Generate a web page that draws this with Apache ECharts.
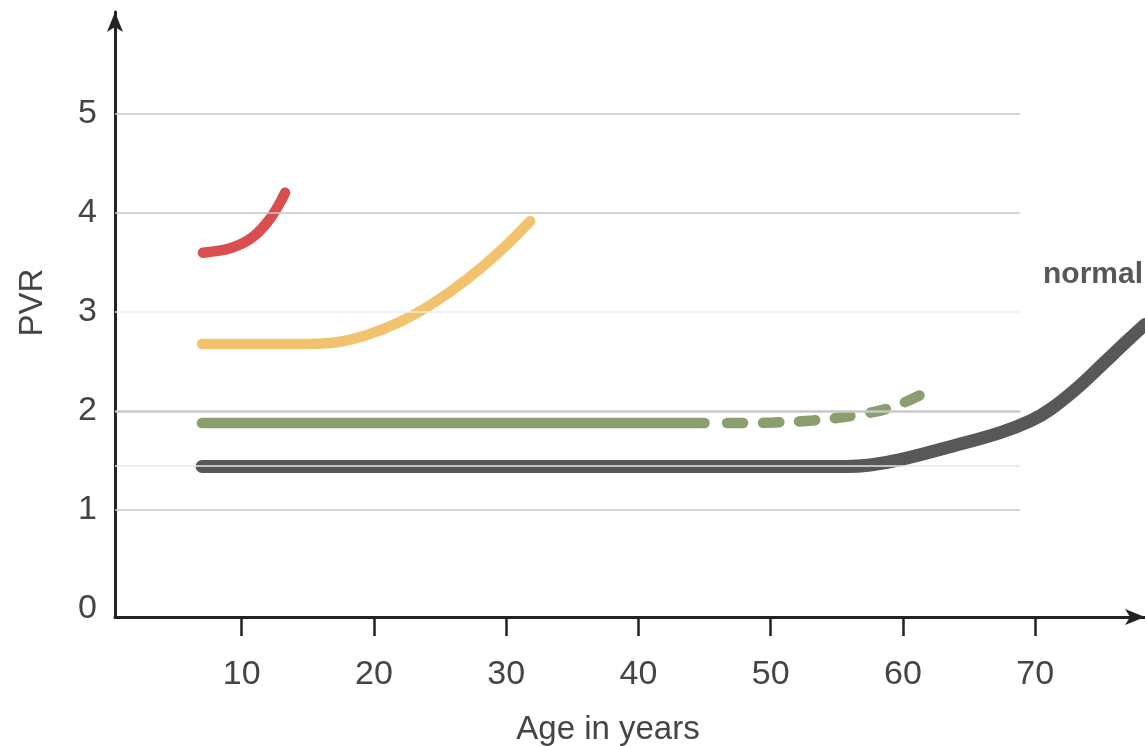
<!DOCTYPE html>
<html>
<head>
<meta charset="utf-8">
<script src="https://cdn.jsdelivr.net/npm/echarts@6/dist/echarts.min.js"></script>
<style>html,body{margin:0;padding:0;background:#fff}#c{width:1145px;height:746px}</style>
</head>
<body>
<div id="c"></div>
<script>
// ---- data ----
const xTicks = [10, 20, 30, 40, 50, 60, 70];
const yTicks = [0, 1, 2, 3, 4, 5];
const gridLevels = [1, 2, 3, 4, 5];
const refLevel = 1.45;
const redCurve = [[7.07,3.599],[8.31,3.62],[9.24,3.649],[10.17,3.70],[10.92,3.767],[11.54,3.845],[12.16,3.946],[12.66,4.049],[13.03,4.138],[13.28,4.205]];
const orangeCurve = [[7.0,2.677],[11,2.677],[14.41,2.677],[16.93,2.69],[19.46,2.768],[21.98,2.902],[24.49,3.09],[27.02,3.329],[29.54,3.615],[31.81,3.918]];
const greenSolid = [[7.0,1.88],[45.0,1.88]];
const greenDashed = [[46.7,1.88],[48.5,1.88],[50.2,1.885],[53.2,1.905],[56.5,1.96],[59.2,2.04],[61.9,2.2]];
const normalCurve = [[7.0,1.44],[45,1.44],[52,1.44],[55.63,1.44],[57.53,1.455],[59.79,1.509],[63.58,1.64],[67.36,1.782],[69.63,1.9],[71.14,2.017],[73.16,2.232],[75.15,2.48],[76.66,2.672],[78.3,2.874]];
const normalLabel = 'normal';
const xName = 'Age in years';
const yName = 'PVR';

const X_MIN = 0.42, X_MAX = 78.3, Y_MIN = -0.08, Y_MAX = 6.03, GRID_END = 68.87;
const font = "'Liberation Sans', Arial, sans-serif";

const gridMark = gridLevels.map(v => [
  {coord: [X_MIN, v], lineStyle: {type: 'solid', color: v === 3 ? '#ececec' : '#c8c8c8', width: v === 2 ? 2.5 : 1.5}},
  {coord: [GRID_END, v]}
]);
gridMark.push([
  {coord: [X_MIN, refLevel], lineStyle: {type: 'solid', color: '#e6e6e6', width: 1.5}},
  {coord: [GRID_END, refLevel]}
]);

const chart = echarts.init(document.getElementById('c'), null, {renderer: 'canvas'});
const lineBase = {type: 'line', showSymbol: false, symbol: 'none', smooth: 0.4, silent: true, z: 3};
chart.setOption({
  animation: false,
  backgroundColor: '#fff',
  grid: {left: 115, right: 0, top: 12, bottom: 129, containLabel: false, outerBoundsMode: 'none'},
  xAxis: {
    type: 'value', min: X_MIN, max: X_MAX,
    name: xName, nameLocation: 'middle', nameGap: 96,
    nameTextStyle: {fontFamily: font, fontSize: 33, color: '#444', padding: [0, 44, 0, 0]},
    axisLine: {show: true, onZero: false, lineStyle: {color: '#222', width: 3}, symbol: ['none', 'arrow'], symbolSize: [12, 20]},
    axisTick: {show: true, customValues: xTicks, length: 19, inside: false, lineStyle: {color: '#222', width: 2.5}},
    axisLabel: {show: true, customValues: xTicks, fontFamily: font, fontSize: 34, color: '#444', margin: 41},
    splitLine: {show: false}
  },
  yAxis: {
    type: 'value', min: Y_MIN, max: Y_MAX,
    name: yName, nameLocation: 'middle', nameGap: 66, nameRotate: 90,
    nameTextStyle: {fontFamily: font, fontSize: 33, color: '#444', padding: [0, 0, 0, 24]},
    axisLine: {show: true, onZero: false, lineStyle: {color: '#222', width: 3}, symbol: ['none', 'arrow'], symbolSize: [12, 20]},
    axisTick: {show: false},
    axisLabel: {show: true, customValues: yTicks, fontFamily: font, fontSize: 34, color: '#444', margin: 18},
    splitLine: {show: false}
  },
  series: [
    {type: 'line', data: [], z: 1, silent: true, markLine: {silent: true, symbol: 'none', label: {show: false}, data: gridMark}},
    Object.assign({}, lineBase, {name: 'normal', data: normalCurve, lineStyle: {color: '#58585a', width: 13, cap: 'round', join: 'round'},
      endLabel: {show: true, formatter: normalLabel, fontFamily: font, fontWeight: 'bold', fontSize: 30, color: '#58585a', offset: [-110, -50]}}),
    Object.assign({}, lineBase, {name: 'green', data: greenSolid, lineStyle: {color: '#8a9f6d', width: 10.5, cap: 'round'}}),
    Object.assign({}, lineBase, {name: 'green-dashed', data: greenDashed, lineStyle: {color: '#8a9f6d', width: 10.5, cap: 'round', type: [16, 20]}}),
    Object.assign({}, lineBase, {name: 'orange', data: orangeCurve, lineStyle: {color: '#f3c26f', width: 10.5, cap: 'round', join: 'round'}}),
    Object.assign({}, lineBase, {name: 'red', data: redCurve, lineStyle: {color: '#d94f50', width: 10.5, cap: 'round', join: 'round'}})
  ]
});
</script>
</body>
</html>
